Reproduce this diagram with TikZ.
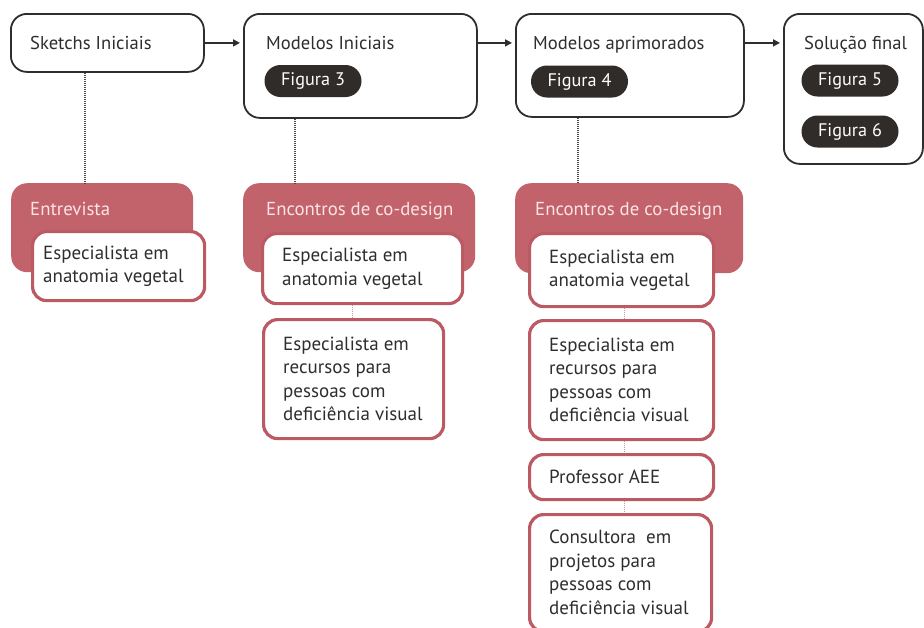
\documentclass[tikz,border=0pt]{standalone}
\usepackage{fontspec}
\setmainfont{PT Sans}
\usetikzlibrary{arrows.meta}
\definecolor{dk}{HTML}{2E2E2E}
\definecolor{pk}{HTML}{302C29}
\definecolor{rd}{HTML}{C2636C}
\definecolor{rdb}{HTML}{BC5A64}
\definecolor{rdt}{HTML}{FBE3E6}
\definecolor{tx}{HTML}{2E2E2E}
\definecolor{dotk}{HTML}{4A4A4A}
\definecolor{dotr}{HTML}{C8959B}
\tikzset{
  topbox/.style={draw=dk, line width=1.8pt, rounded corners=16pt, fill=white, inner sep=0pt, anchor=north west},
  toptxt/.style={anchor=base west, inner sep=0pt, text=tx, font=\fontsize{18.6}{23}\selectfont},
  pill/.style={fill=pk, text=white, rounded corners=16pt, inner sep=0pt, minimum width=97pt, minimum height=32pt, font=\fontsize{18.2}{20}\selectfont},
  redbox/.style={fill=rd, rounded corners=16pt, inner sep=0pt, anchor=north west},
  redtxt/.style={anchor=base west, inner sep=0pt, text=rdt, font=\fontsize{18.8}{23}\selectfont},
  wbox/.style={draw=rdb, line width=3.2pt, fill=white, rounded corners=14pt, inner sep=0pt, anchor=north west},
  wtxt/.style={anchor=west, inner sep=0pt, align=left, text=tx, font=\fontsize{19}{23.5}\selectfont},
  arr/.style={draw=dk, line width=1.6pt, -{Triangle[length=7pt,width=7pt]}, shorten >=3pt},
  dotk/.style={draw=dotk, line width=1.5pt, dash pattern=on 1pt off 1pt},
  dotr/.style={draw=dotr, line width=1.5pt, dash pattern=on 1pt off 1pt}
}
\begin{document}
\begin{tikzpicture}[x=1pt,y=-1pt]
\useasboundingbox (0,0) rectangle (924,627);
\fill[white] (0,0) rectangle (924,627);

% top row
\node[topbox, minimum width=193pt, minimum height=58pt] (sk) at (10,13) {};
\node[topbox, minimum width=233pt, minimum height=104pt] (mi) at (243,13) {};
\node[topbox, minimum width=228pt, minimum height=103pt] (ma) at (515,13) {};
\node[topbox, minimum width=139pt, minimum height=150pt] (sf) at (783,13) {};

\node[toptxt] (skt) at (30,49) {Sketchs Iniciais};
\node[toptxt] (mit) at (266,49) {Modelos Iniciais};
\node[toptxt] (mat) at (533,49) {Modelos aprimorados};
\node[toptxt] (sft) at (804,49) {Solução final};

\node[pill] (f3) at (313,81) {Figura 3};
\node[pill] (f4) at (579.5,81.5) {Figura 4};
\node[pill] (f5) at (850,80.5) {Figura 5};
\node[pill] (f6) at (850,131.5) {Figura 6};

\draw[arr] (sk.east) -- (sk.east -| mi.west);
\draw[arr] (mi.east |- sk.east) -- (sk.east -| ma.west);
\draw[arr] (ma.east |- sk.east) -- (sk.east -| sf.west);

% red boxes
\node[redbox, minimum width=182pt, minimum height=89pt] (r1) at (11,183) {};
\node[redbox, minimum width=232pt, minimum height=89pt] (r2) at (243,183) {};
\node[redbox, minimum width=228pt, minimum height=90pt] (r3) at (515,183) {};

\draw[dotk] ([xshift=-22.5pt]sk.south) -- ([xshift=-22.5pt]sk.south |- r1.north);
\draw[dotk] ([xshift=-65.5pt]mi.south) -- ([xshift=-65.5pt]mi.south |- r2.north);
\draw[dotk] ([xshift=-52pt]ma.south) -- ([xshift=-52pt]ma.south |- r3.north);

\node[redtxt] (r1t) at (30,215) {Entrevista};
\node[redtxt] (r2t) at (266,215) {Encontros de co-design};
\node[redtxt] (r3t) at (535,215) {Encontros de co-design};

% white boxes
\node[wbox, minimum width=172pt, minimum height=69pt] (w1) at (31,230) {};
\node[wbox, minimum width=200pt, minimum height=70pt] (w2a) at (261,232) {};
\node[wbox, minimum width=180pt, minimum height=119pt] (w2b) at (262,318) {};
\node[wbox, minimum width=184pt, minimum height=73pt] (w3a) at (528,232) {};
\node[wbox, minimum width=184pt, minimum height=119pt] (w3b) at (528,319) {};
\node[wbox, minimum width=184pt, minimum height=45pt] (w3c) at (528,453) {};
\node[wbox, minimum width=182pt, minimum height=117pt] (w3d) at (528,513) {};

\draw[dotr] ([xshift=-10pt]w2a.south) -- ([xshift=-10pt]w2a.south |- w2b.north);
\draw[dotr] ([xshift=3pt]w3a.south) -- ([xshift=3pt]w3a.south |- w3b.north);
\draw[dotr] ([xshift=3pt]w3b.south) -- ([xshift=3pt]w3b.south |- w3c.north);
\draw[dotr] ([xshift=3pt]w3c.south) -- ([xshift=3pt]w3c.south |- w3d.north);

\node[wtxt] (w1t) at ([xshift=12pt]w1.west) {Especialista em\\anatomia vegetal};
\node[wtxt] (w2at) at ([xshift=21pt]w2a.west) {Especialista em\\anatomia vegetal};
\node[wtxt] (w2bt) at ([xshift=21pt]w2b.west) {Especialista em\\recursos para\\pessoas com\\deficiência visual};
\node[wtxt] (w3at) at ([xshift=21pt]w3a.west) {Especialista em\\anatomia vegetal};
\node[wtxt] (w3bt) at ([xshift=21pt]w3b.west) {Especialista em\\recursos para\\pessoas com\\deficiência visual};
\node[wtxt] (w3ct) at ([xshift=21pt]w3c.west) {Professor AEE};
\node[wtxt] (w3dt) at ([xshift=21pt,yshift=1pt]w3d.west) {Consultora~ em\\projetos para\\pessoas com\\deficiência visual};
\end{tikzpicture}
\end{document}
